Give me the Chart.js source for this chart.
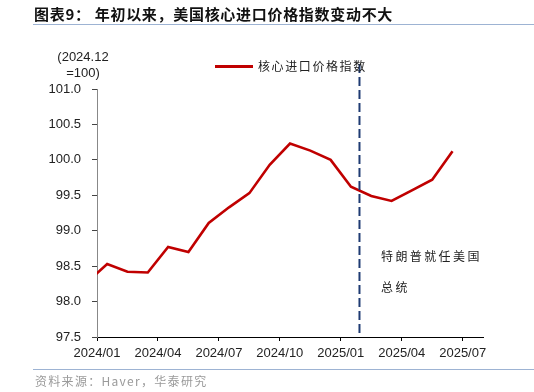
<!DOCTYPE html>
<html>
<head>
<meta charset="utf-8">
<script src="https://cdn.jsdelivr.net/npm/chart.js@4"></script>
<style>
  body { margin: 0; background: #fff; }
  #wrap { position: relative; width: 534px; height: 392px; overflow: hidden; }
  canvas { position: absolute; left: 0; top: 0; }
  .txt { position: absolute; white-space: nowrap; font-family: "Noto Sans CJK SC", sans-serif; }
  #title { left: 34px; top: 3px; font-size: 15px; font-weight: bold; color: #111; letter-spacing: 0.7px; }
  .rule { position: absolute; left: 33px; width: 501px; height: 1px; background: #9db3d3; }
  #source { left: 35px; top: 372px; font-size: 12px; color: #9a9a9a; letter-spacing: 1.3px; }
  #unit { left: 50px; top: 49px; width: 66px; text-align: center; font-family: "Liberation Sans", Arial, sans-serif; font-size: 13px; line-height: 16px; color: #222; }
  #legLine { position: absolute; left: 215px; top: 65px; width: 38px; height: 3px; background: #c00000; }
  #legText { left: 258px; top: 57px; font-size: 12px; color: #222; letter-spacing: 1.6px; }
  .note { left: 381px; font-size: 12px; color: #222; letter-spacing: 2.4px; }
</style>
</head>
<body>
<div id="wrap">
  <canvas id="chart" width="534" height="392"></canvas>
  <div id="title" class="txt">图表9： 年初以来，美国核心进口价格指数变动不大</div>
  <div class="rule" style="top:24px"></div>
  <div id="unit" class="txt">(2024.12<br>=100)</div>
  <div id="legLine"></div>
  <div id="legText" class="txt">核心进口价格指数</div>
  <div class="txt note" style="top:247px">特朗普就任美国</div>
  <div class="txt note" style="top:278px">总统</div>
  <div class="rule" style="top:369px"></div>
  <div id="source" class="txt">资料来源：Haver，华泰研究</div>
</div>
<script>
// monthly data, index 0 = 2023/12 (clipped at the left edge)
const months = ["2023/12","2024/01","2024/02","2024/03","2024/04","2024/05","2024/06","2024/07","2024/08","2024/09",
  "2024/10","2024/11","2024/12","2025/01","2025/02","2025/03","2025/04","2025/05","2025/06"];
const coreImport = [98.27, 98.53, 98.42, 98.41, 98.77, 98.70, 99.11, 99.33, 99.53, 99.93,
  100.23, 100.13, 100.00, 99.62, 99.49, 99.42, 99.57, 99.72, 100.12];
const tickLabels = ["2024/01","2024/04","2024/07","2024/10","2025/01","2025/04","2025/07"];
const yTicks = [97.5, 98.0, 98.5, 99.0, 99.5, 100.0, 100.5, 101.0];
const trumpMark = 12.92; // months after 2024/01

// x in months since start of 2024/01, points in the middle of each month
const points = coreImport.map((v, i) => ({ x: i - 1 + 0.5, y: v }));

const markLine = {
  id: "markLine",
  afterDatasetsDraw(chart) {
    const ctx = chart.ctx;
    const x = chart.scales.x.getPixelForValue(trumpMark);
    ctx.save();
    ctx.strokeStyle = "#1f3b73";
    ctx.lineWidth = 2;
    ctx.setLineDash([9, 4]);
    ctx.beginPath();
    ctx.moveTo(x, chart.chartArea.top - 25);
    ctx.lineTo(x, chart.chartArea.bottom);
    ctx.stroke();
    ctx.restore();
  }
};

new Chart(document.getElementById("chart").getContext("2d"), {
  type: "line",
  data: {
    datasets: [{
      label: "核心进口价格指数",
      data: points,
      borderColor: "#c00000",
      borderWidth: 2.6,
      pointRadius: 0,
      tension: 0
    }]
  },
  options: {
    responsive: false,
    animation: false,
    layout: { padding: { left: 0, top: 89, right: 51, bottom: 0 } },
    plugins: { legend: { display: false }, tooltip: { enabled: false } },
    scales: {
      x: {
        type: "linear",
        min: 0,
        max: 19,
        afterFit: s => { s.height = 55; },
        afterBuildTicks: s => { s.ticks = tickLabels.map((t, i) => ({ value: i * 3 })); },
        grid: { drawOnChartArea: false, drawTicks: true, tickLength: 4, color: "#000" },
        border: { color: "#000", width: 1 },
        ticks: {
          autoSkip: false,
          maxRotation: 0,
          padding: 5,
          color: "#222",
          font: { family: "Liberation Sans", size: 13 },
          callback: (v) => tickLabels[Math.round(v / 3)]
        }
      },
      y: {
        min: 97.5,
        max: 101,
        afterFit: s => { s.width = 97; },
        afterBuildTicks: s => { s.ticks = yTicks.map(v => ({ value: v })); },
        grid: { drawOnChartArea: false, drawTicks: true, tickLength: 5, color: "#444" },
        border: { color: "#888", width: 1 },
        ticks: {
          padding: 11,
          color: "#222",
          font: { family: "Liberation Sans", size: 13 },
          callback: v => v.toFixed(1)
        }
      }
    }
  },
  plugins: [markLine]
});
</script>
</body>
</html>
